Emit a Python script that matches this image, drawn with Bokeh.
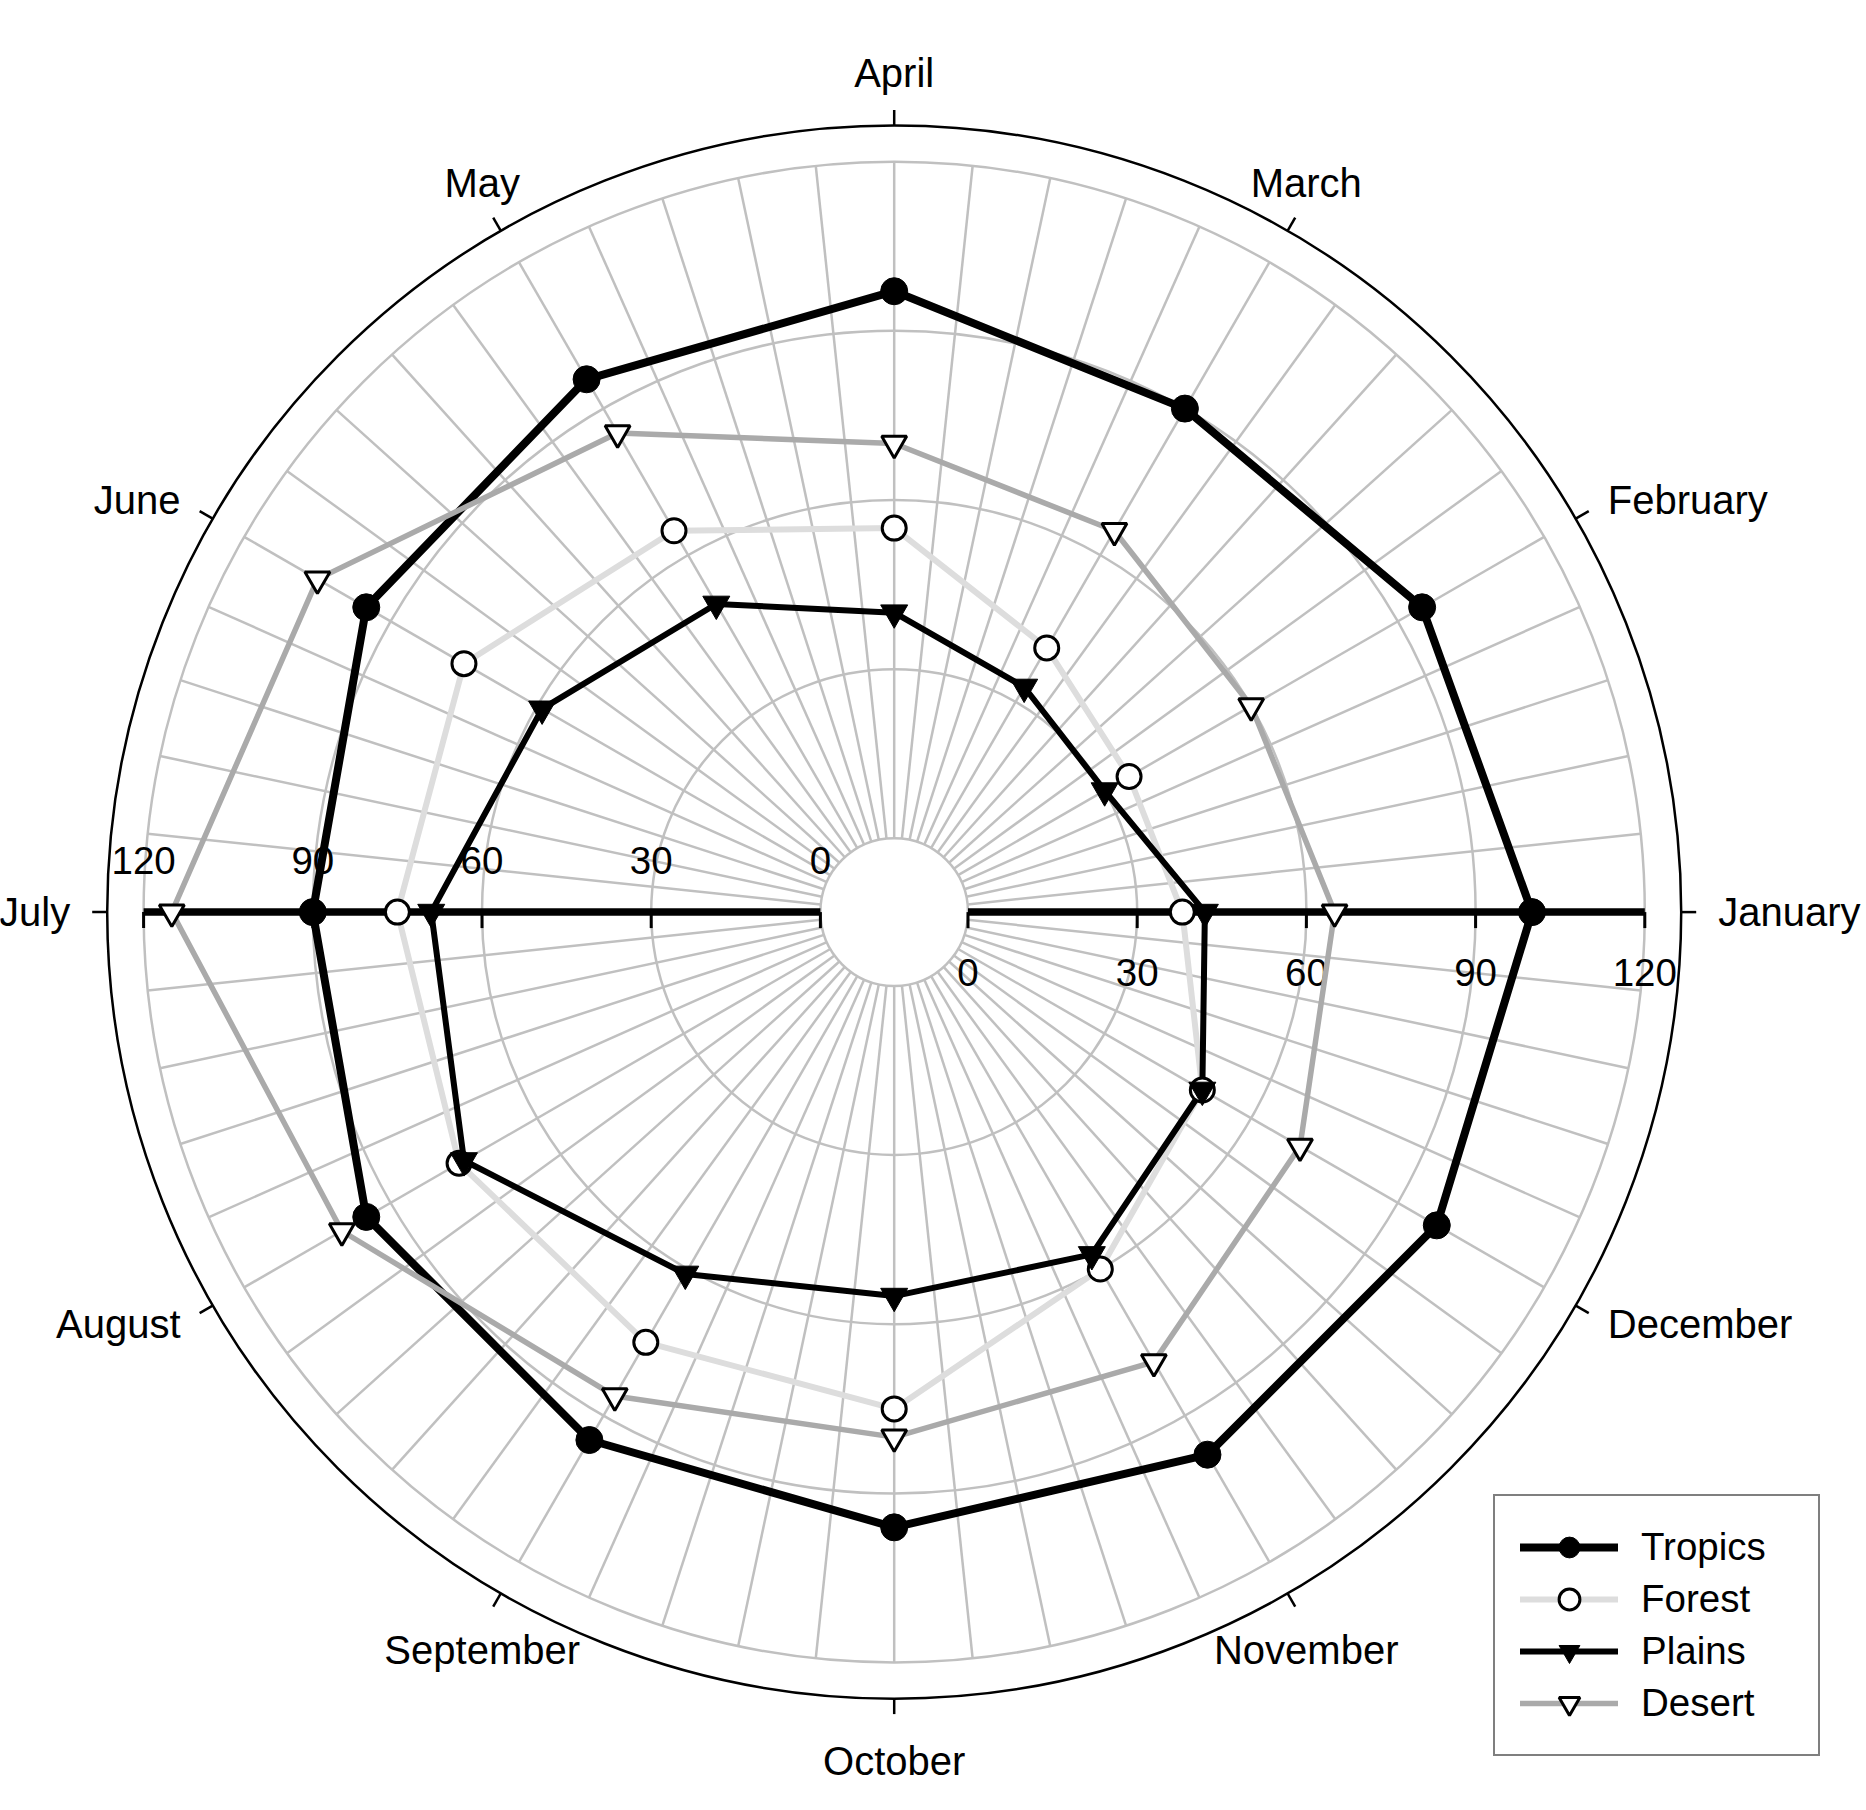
import numpy as np
from bokeh.plotting import figure
from bokeh.models import Range1d, Legend, LegendItem
from bokeh.core.properties import value
from bokeh.embed import file_html
from bokeh.resources import INLINE

# ---------------- data ----------------
months = ["January", "February", "March", "April", "May", "June",
          "July", "August", "September", "October", "November", "December"]
tropics = [100, 95, 90, 97, 96, 95, 90, 95, 95, 96, 98, 98]
forest = [38, 35, 41, 55, 65, 75, 75, 76, 75, 75, 60, 50]
plains = [42, 30, 33, 40, 50, 59, 69, 75, 61, 55, 57, 50]
desert = [65, 60, 65, 70, 85, 105, 115, 100, 86, 80, 79, 70]
radial_ticks = [0, 30, 60, 90, 120]
series_names = ["Tropics", "Forest", "Plains", "Desert"]

# ---------------- geometry (pixels -> data units) ----------------
W, H = 1866, 1810
S = 5.64                 # px per value unit
CX, CY = 893.7, 911.6    # centre in px from top-left
HOLE = 73.8 / S          # inner hole radius in data units
R_OUT = 787.0 / S
FONT_NAME = "Liberation Sans"
FONT = value(FONT_NAME)

p = figure(width=W, height=H, output_backend="svg", toolbar_location=None,
           x_range=Range1d(-CX / S, (W - CX) / S),
           y_range=Range1d(-(H - CY) / S, CY / S),
           min_border=0, background_fill_color="white", border_fill_color="white")
p.axis.visible = False
p.grid.visible = False
p.outline_line_color = None

theta = np.deg2rad(np.arange(12) * 30.0)

# spokes every 6 degrees
sp = np.deg2rad(np.arange(0, 360, 6))
r120 = HOLE + radial_ticks[-1]
p.segment(x0=HOLE * np.cos(sp), y0=HOLE * np.sin(sp),
          x1=r120 * np.cos(sp), y1=r120 * np.sin(sp),
          line_color="#C0C0C0", line_width=2.5)

# grid circles
gr = [HOLE + v for v in radial_ticks[1:]]
p.circle(x=[0] * len(gr), y=[0] * len(gr), radius=gr,
         fill_color=None, line_color="#C0C0C0", line_width=2.5)
# hole
p.circle(x=[0], y=[0], radius=[HOLE], fill_color="white",
         line_color="#C0C0C0", line_width=2.5)

# outer circle + month ticks
p.circle(x=[0], y=[0], radius=[R_OUT], fill_color=None,
         line_color="black", line_width=2.5)
tl = 15.0 / S
p.segment(x0=R_OUT * np.cos(theta), y0=R_OUT * np.sin(theta),
          x1=(R_OUT + tl) * np.cos(theta), y1=(R_OUT + tl) * np.sin(theta),
          line_color="black", line_width=2.5)

# radial axis (both sides)
p.segment(x0=[HOLE, -HOLE], y0=[0, 0], x1=[HOLE + 120, -(HOLE + 120)], y1=[0, 0],
          line_color="black", line_width=7.5)
tx = np.array([HOLE + v for v in radial_ticks])
p.segment(x0=np.concatenate([tx, -tx]), y0=np.zeros(10),
          x1=np.concatenate([tx, -tx]), y1=np.full(10, -16.0 / S),
          line_color="black", line_width=3)
lbl = [str(v) for v in radial_ticks]
p.text(x=tx, y=np.full(5, -60.0 / S), text=lbl, text_font=FONT,
       text_font_size=value("38.5px"), text_align="center", text_baseline="middle",
       text_color="black")
p.text(x=-tx, y=np.full(5, 52.0 / S), text=lbl, text_font=FONT,
       text_font_size=value("38.5px"), text_align="center", text_baseline="middle",
       text_color="black")

# month labels
R_LAB = 824.0
groups = {"left": ([], [], []), "right": ([], [], []), "center": ([], [], [])}
for m, t in zip(months, theta):
    c, s = np.cos(t), np.sin(t)
    lx, ly = R_LAB * c, R_LAB * s
    if c > 0.7:
        key = "left"
    elif c < -0.7:
        key = "right"
    else:
        key = "center"
        ly += 15.0 if s > 0 else -24.5
    groups[key][0].append(lx / S)
    groups[key][1].append(ly / S)
    groups[key][2].append(m)
for key, (gx, gy, gt) in groups.items():
    p.text(x=gx, y=gy, text=gt, text_font=FONT, text_font_size=value("40px"),
           text_align=key, text_baseline="middle", text_color="black")

# ---------------- series ----------------
styles = [
    dict(data=tropics, color="black", lw=8, marker="circle", size=27,
         fill="black", mlw=1),
    dict(data=forest, color="#DDDDDD", lw=6, marker="circle", size=24,
         fill="white", mlw=3),
    dict(data=plains, color="black", lw=6, marker="inverted_triangle", size=27,
         fill="black", mlw=1),
    dict(data=desert, color="#AAAAAA", lw=5.5, marker="inverted_triangle", size=25,
         fill="white", mlw=3),
]
items = []
for name, st in zip(series_names, styles):
    r = HOLE + np.array(st["data"], dtype=float)
    x = r * np.cos(theta)
    y = r * np.sin(theta)
    xc = np.append(x, x[0])
    yc = np.append(y, y[0])
    lr = p.line(xc, yc, line_color=st["color"], line_width=st["lw"],
                line_join="round", line_cap="round")
    items.append((name, lr, x, y, st))
legend_items = []
for name, lr, x, y, st in items:
    sr = p.scatter(x, y, marker=st["marker"], size=st["size"],
                   fill_color=st["fill"], line_color="black", line_width=st["mlw"])
    legend_items.append(LegendItem(label=name, renderers=[lr, sr]))

legend = Legend(items=legend_items, location=(1493, 54),
                glyph_width=98, glyph_height=52, label_height=52, label_width=152,
                spacing=0, padding=25, label_standoff=23, margin=0,
                border_line_color="black", border_line_width=2.5,
                background_fill_color="white", background_fill_alpha=1.0,
                label_text_font=FONT_NAME, label_text_font_size="38.5px",
                label_text_color="black", label_text_baseline="middle")
p.add_layout(legend)

open("out.html", "w").write(file_html(p, INLINE))
